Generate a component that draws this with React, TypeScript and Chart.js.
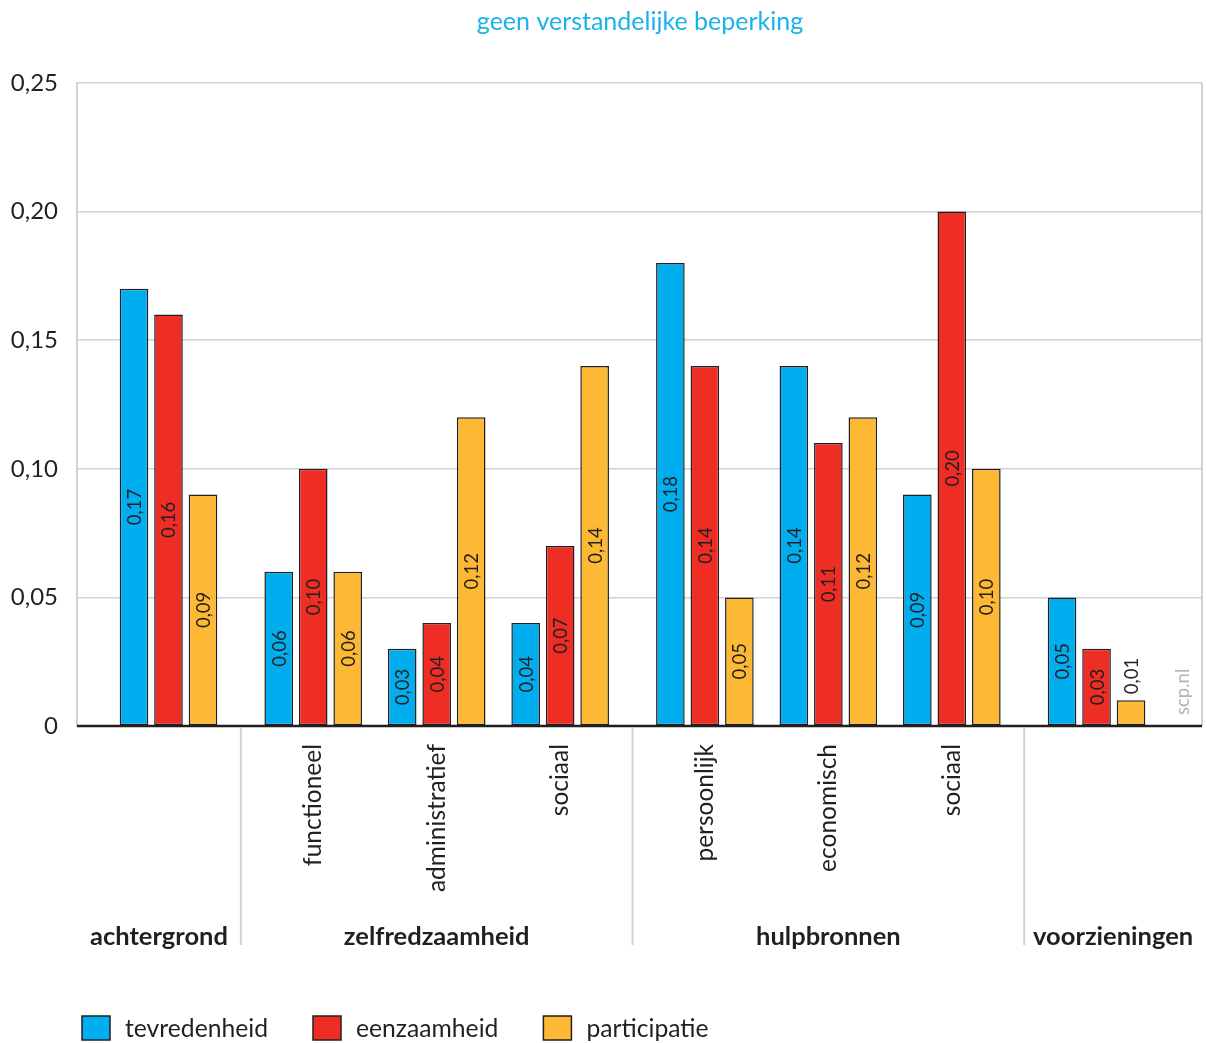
import React, { useEffect, useRef } from "react";
import { Chart, registerables } from "chart.js";

Chart.register(...registerables);

const title = "geen verstandelijke beperking";
const categories = ["", "functioneel", "administratief", "sociaal", "persoonlijk", "economisch", "sociaal", ""];
const categoryGroup = [0, 1, 1, 1, 2, 2, 2, 3];
const groupNames = ["achtergrond", "zelfredzaamheid", "hulpbronnen", "voorzieningen"];
const seriesNames = ["tevredenheid", "eenzaamheid", "participatie"];
const seriesColors = ["#00aeef", "#ee2d24", "#fdb933"];
const tevredenheid = [0.17, 0.06, 0.03, 0.04, 0.18, 0.14, 0.09, 0.05];
const eenzaamheid = [0.16, 0.1, 0.04, 0.07, 0.14, 0.11, 0.2, 0.03];
const participatie = [0.09, 0.06, 0.12, 0.14, 0.05, 0.12, 0.1, 0.01];
const yTicks = [0, 0.05, 0.1, 0.15, 0.2, 0.25];
const sourceLabel = "scp.nl";

const GROUP_GAP = 0.172;
const FONT = "Lato, 'Open Sans', sans-serif";
const TEXT = "#231f20";
const GRID = "#d2d2d2";

const positions = categories.map((_, i) => i + GROUP_GAP * categoryGroup[i]);
const fmt = (v: number) => (v === 0 ? "0" : v.toFixed(2).replace(".", ","));

export default function App() {
  const ref = useRef<HTMLCanvasElement | null>(null);
  useEffect(() => {
    if (!ref.current) return;
    const allSeries = [tevredenheid, eenzaamheid, participatie];

    const overlay = {
      id: "overlay",
      beforeDatasetsDraw(chart: any) {
        const { ctx, chartArea } = chart;
        ctx.save();
        ctx.strokeStyle = GRID;
        ctx.lineWidth = 2;
        ctx.beginPath();
        ctx.moveTo(chartArea.right, chartArea.top);
        ctx.lineTo(chartArea.right, chartArea.bottom);
        ctx.stroke();
        ctx.restore();
      },
      afterDatasetsDraw(chart: any) {
        const { ctx, chartArea } = chart;
        const xs = chart.scales.x;
        ctx.save();
        // value labels
        ctx.font = `18.5px ${FONT}`;
        ctx.fillStyle = TEXT;
        chart.data.datasets.forEach((ds: any, di: number) => {
          const meta = chart.getDatasetMeta(di);
          meta.data.forEach((bar: any, i: number) => {
            const v = allSeries[di][i];
            const txt = fmt(v);
            const w = ctx.measureText(txt).width;
            const h = bar.base - bar.y;
            ctx.save();
            if (h > w + 12) {
              ctx.translate(bar.x, (bar.y + bar.base) / 2);
              ctx.rotate(-Math.PI / 2);
              ctx.textAlign = "center";
            } else {
              ctx.translate(bar.x, bar.y - 6);
              ctx.rotate(-Math.PI / 2);
              ctx.textAlign = "left";
            }
            ctx.textBaseline = "middle";
            ctx.fillText(txt, 0, 1);
            ctx.restore();
          });
        });
        // baseline
        ctx.strokeStyle = "#231f20";
        ctx.lineWidth = 2.5;
        ctx.beginPath();
        ctx.moveTo(chartArea.left, chartArea.bottom);
        ctx.lineTo(chartArea.right, chartArea.bottom);
        ctx.stroke();
        // source label
        ctx.save();
        ctx.font = `18.5px ${FONT}`;
        ctx.fillStyle = "#b4b4b4";
        ctx.translate(chartArea.right - 19, chartArea.bottom - 11);
        ctx.rotate(-Math.PI / 2);
        ctx.textAlign = "left";
        ctx.textBaseline = "middle";
        ctx.fillText(sourceLabel, 0, 0);
        ctx.restore();
        // group separators and names
        const bounds: number[] = [chartArea.left];
        for (let i = 1; i < positions.length; i++) {
          if (categoryGroup[i] !== categoryGroup[i - 1]) {
            bounds.push(xs.getPixelForValue((positions[i] + positions[i - 1]) / 2));
          }
        }
        bounds.push(chartArea.right);
        ctx.strokeStyle = GRID;
        ctx.lineWidth = 2;
        for (let b = 1; b < bounds.length - 1; b++) {
          ctx.beginPath();
          ctx.moveTo(bounds[b], chartArea.bottom + 1);
          ctx.lineTo(bounds[b], chartArea.bottom + 219);
          ctx.stroke();
        }
        ctx.font = `bold 25.5px ${FONT}`;
        ctx.fillStyle = TEXT;
        ctx.textAlign = "center";
        ctx.textBaseline = "middle";
        groupNames.forEach((g, gi) => {
          ctx.fillText(g, (bounds[gi] + bounds[gi + 1]) / 2, chartArea.bottom + 211);
        });
        // title
        ctx.font = `25px ${FONT}`;
        ctx.fillStyle = "#1ab2ea";
        ctx.fillText(title, 640, 22);
        // legend
        ctx.font = `24.7px ${FONT}`;
        ctx.textAlign = "left";
        let lx = 82;
        const ly = 1028;
        chart.data.datasets.forEach((ds: any) => {
          ctx.fillStyle = ds.backgroundColor;
          ctx.fillRect(lx, ly - 12, 28, 24);
          ctx.strokeStyle = "#231f20";
          ctx.lineWidth = 1.5;
          ctx.strokeRect(lx, ly - 12, 28, 24);
          ctx.fillStyle = TEXT;
          ctx.fillText(ds.label, lx + 43, ly + 1);
          lx += 43 + ctx.measureText(ds.label).width + 45;
        });
        ctx.restore();
      },
    };

    const chart = new Chart(ref.current, {
      type: "bar",
      data: {
        datasets: allSeries.map((s, si) => ({
          label: seriesNames[si],
          data: s.map((v, i) => ({ x: positions[i], y: v })),
          backgroundColor: seriesColors[si],
          borderColor: "#231f20",
          borderWidth: 1.5,
          borderSkipped: false,
          categoryPercentage: 0.838,
          barPercentage: 0.83,
        })),
      },
      options: {
        animation: false,
        responsive: false,
        maintainAspectRatio: false,
        layout: { padding: { top: 83, right: 5, bottom: 0, left: 0 } },
        plugins: { legend: { display: false }, title: { display: false }, tooltip: { enabled: false } },
        scales: {
          x: {
            type: "linear",
            min: -0.741,
            max: 8.37,
            offset: false,
            grid: { display: false, drawTicks: false },
            border: { display: false },
            afterBuildTicks: (scale: any) => {
              scale.ticks = positions.map((p) => ({ value: p }));
            },
            afterFit: (scale: any) => {
              scale.height = 317;
            },
            ticks: {
              autoSkip: false,
              minRotation: 90,
              maxRotation: 90,
              padding: 18,
              color: TEXT,
              font: { family: FONT, size: 24.5 },
              callback: (_v: any, i: number) => categories[i],
            },
          },
          y: {
            min: 0,
            max: 0.25,
            afterBuildTicks: (scale: any) => {
              scale.ticks = yTicks.map((v) => ({ value: v }));
            },
            afterFit: (scale: any) => {
              scale.width = 77;
            },
            grid: {
              drawTicks: false,
              lineWidth: 1.5,
              color: (c: any) => (c.tick && c.tick.value === 0 ? "rgba(0,0,0,0)" : GRID),
            },
            border: { color: GRID, width: 2 },
            ticks: {
              padding: 19,
              color: TEXT,
              font: { family: FONT, size: 24 },
              callback: (v: any) => fmt(Number(v)),
            },
          },
        },
      },
      plugins: [overlay],
    } as any);
    return () => chart.destroy();
  }, []);

  return (
    <div style={{ position: "absolute", left: 0, top: 0, width: 1207, height: 1043, background: "#fff" }}>
      <canvas ref={ref} width={1207} height={1043} style={{ width: 1207, height: 1043, display: "block" }} />
    </div>
  );
}
